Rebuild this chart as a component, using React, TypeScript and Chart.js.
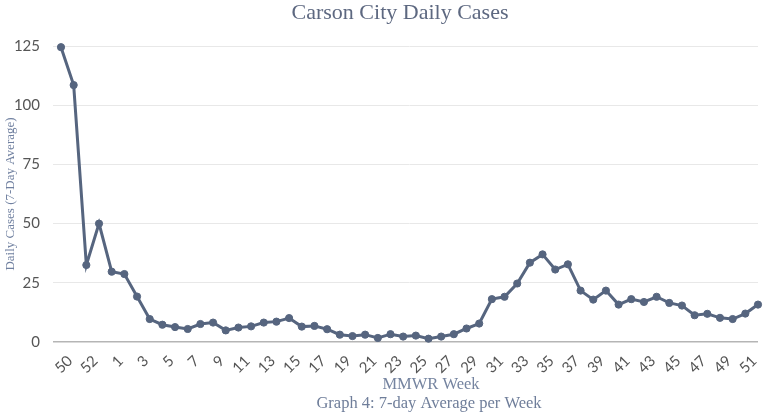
import React, { useEffect, useRef } from "react";
import { Chart, registerables } from "chart.js";

Chart.register(...registerables);

const weekLabels: string[] = [
  "50", "51", "52", "53",
  "1", "2", "3", "4", "5", "6", "7", "8", "9", "10",
  "11", "12", "13", "14", "15", "16", "17", "18", "19", "20",
  "21", "22", "23", "24", "25", "26", "27", "28", "29", "30",
  "31", "32", "33", "34", "35", "36", "37", "38", "39", "40",
  "41", "42", "43", "44", "45", "46", "47", "48", "49", "50",
  "51", "52",
];

const dailyCases: number[] = [
  124.5, 108.5, 32.5, 50.0, 29.7, 28.7, 19.2, 9.7, 7.3, 6.3,
  5.5, 7.6, 8.2, 4.9, 6.1, 6.6, 8.2, 8.6, 10.1, 6.5,
  6.8, 5.4, 3.1, 2.5, 3.1, 1.7, 3.3, 2.3, 2.7, 1.4,
  2.3, 3.3, 5.7, 7.8, 18.1, 19.1, 24.7, 33.5, 37.0, 30.6,
  32.8, 21.7, 17.9, 21.7, 15.8, 18.1, 16.9, 19.1, 16.5, 15.4,
  11.3, 11.9, 10.2, 9.7, 12.0, 15.8,
];

const yTicks: number[] = [0, 25, 50, 75, 100, 125];

const chartTitle = "Carson City Daily Cases";
const xAxisTitle = "MMWR Week";
const yAxisTitle = "Daily Cases (7-Day Average)";
const footnote = "Graph 4: 7-day Average per Week";

const LINE_COLOR = "#56657f";
const SERIF = "'Liberation Serif', 'Times New Roman', serif";
const SANS = "Lato, 'Open Sans', sans-serif";

const textPlugin = {
  id: "extraText",
  afterDraw(chart: any) {
    const ctx = chart.ctx as CanvasRenderingContext2D;
    ctx.save();
    ctx.textAlign = "center";
    ctx.textBaseline = "middle";
    ctx.fillStyle = "#5d6880";
    ctx.font = `22px ${SERIF}`;
    ctx.fillText(chartTitle, 400, 13);
    ctx.fillStyle = "#7584a0";
    ctx.font = `16.5px ${SERIF}`;
    ctx.fillText(xAxisTitle, 431, 385);
    ctx.fillStyle = "#6f7e9a";
    ctx.font = `16.5px ${SERIF}`;
    ctx.fillText(footnote, 429, 404);
    ctx.restore();
  },
};

export default function App() {
  const canvasRef = useRef<HTMLCanvasElement | null>(null);

  useEffect(() => {
    if (!canvasRef.current) return;
    const chart = new Chart(canvasRef.current, {
      type: "line",
      data: {
        labels: weekLabels,
        datasets: [
          {
            data: dailyCases,
            borderColor: LINE_COLOR,
            backgroundColor: LINE_COLOR,
            borderWidth: 3,
            pointRadius: 3.6,
            pointBackgroundColor: LINE_COLOR,
            pointBorderColor: LINE_COLOR,
            pointBorderWidth: 1,
            tension: 0,
            fill: false,
            clip: false,
          },
        ],
      },
      options: {
        responsive: false,
        animation: false,
        layout: { padding: { top: 46, right: 7, left: 0, bottom: 0 } },
        plugins: {
          legend: { display: false },
          title: { display: false },
          tooltip: { enabled: false },
        },
        scales: {
          x: {
            type: "category",
            offset: false,
            grid: { display: false },
            border: { display: false },
            ticks: {
              autoSkip: false,
              minRotation: 45,
              maxRotation: 45,
              labelOffset: 9,
              padding: 2,
              color: "#555555",
              font: { family: SANS, size: 15 },
              callback: (_v: any, i: number) => (i % 2 === 0 ? weekLabels[i] : ""),
            },
            afterFit: (scale: any) => {
              scale.height = 75;
              scale.paddingLeft = 0;
              scale.paddingRight = 0;
            },
          },
          y: {
            min: 0,
            max: 125,
            afterBuildTicks: (scale: any) => {
              scale.ticks = yTicks.map((v) => ({ value: v }));
            },
            grid: {
              color: (c: any) => (c.tick && c.tick.value === 0 ? "#b5b5b5" : "#e8e8e8"),
              lineWidth: (c: any) => (c.tick && c.tick.value === 0 ? 1.5 : 1),
              drawTicks: true,
              tickLength: 8,
            },
            border: { display: false },
            ticks: {
              padding: 13,
              color: "#555555",
              font: { family: SANS, size: 15 },
            },
            title: {
              display: true,
              text: yAxisTitle,
              color: "#7080a0",
              font: { family: SERIF, size: 13 },
              padding: { top: 3, bottom: 2 },
            },
            afterFit: (scale: any) => {
              scale.width = 61;
              scale.paddingTop = 0;
              scale.paddingBottom = 0;
            },
          },
        },
      },
      plugins: [textPlugin],
    });
    return () => chart.destroy();
  }, []);

  return (
    <div style={{ position: "absolute", left: 0, top: 0, width: 765, height: 417, background: "#ffffff" }}>
      <canvas ref={canvasRef} width={765} height={417} style={{ display: "block" }} />
    </div>
  );
}
